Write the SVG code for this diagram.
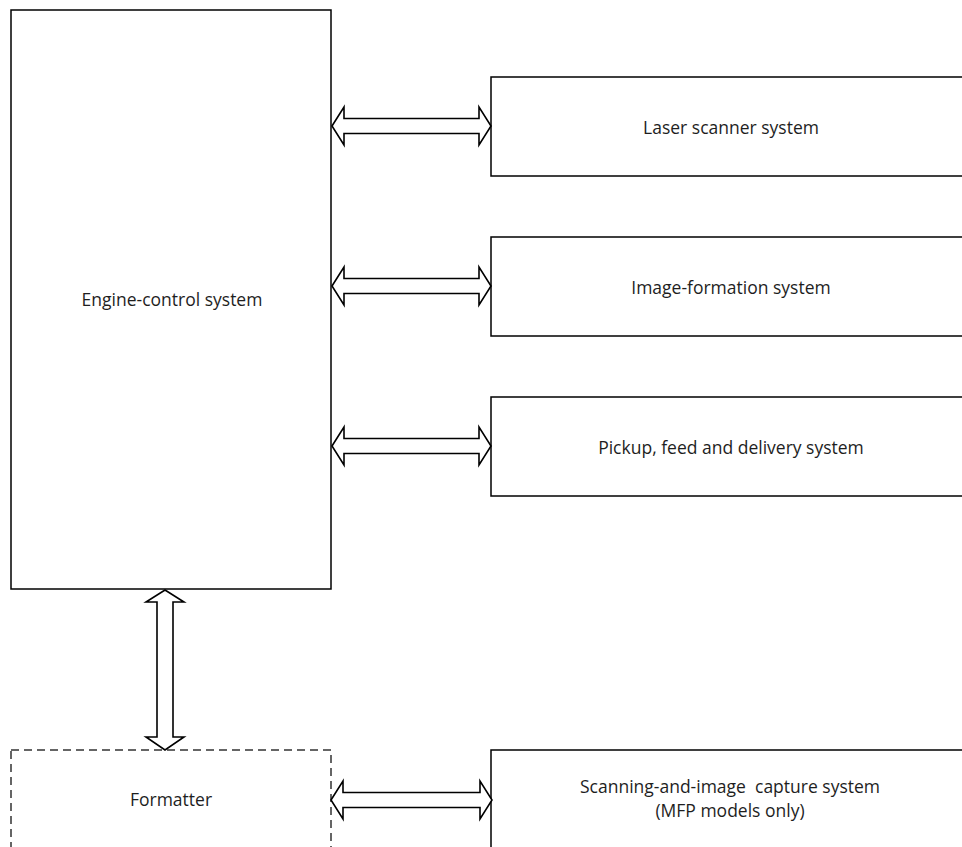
<svg xmlns="http://www.w3.org/2000/svg" width="962" height="847" viewBox="0 0 962 847">
<style>
.box{fill:#fff;stroke:#000;stroke-width:1.5}
.dash{fill:#fff;stroke:#333;stroke-width:1.5;stroke-dasharray:8 5}
.arr{fill:#fff;stroke:#000;stroke-width:1.6;stroke-linejoin:miter}
text{font-family:"Open Sans","Liberation Sans",sans-serif;font-size:17.5px;fill:#1e1e1e;text-anchor:middle}
</style>
<rect width="962" height="847" fill="#fff"/>
<g id="engine-control">
<rect class="box" x="11" y="10" width="320" height="579"/>
<text x="172" y="306">Engine-control system</text>
</g>
<g id="laser-scanner">
<rect class="box" x="491" y="77" width="490" height="99"/>
<text x="731" y="134">Laser scanner system</text>
</g>
<g id="image-formation">
<rect class="box" x="491" y="237" width="490" height="99"/>
<text x="731" y="294">Image-formation system</text>
</g>
<g id="pickup-feed-delivery">
<rect class="box" x="491" y="397" width="490" height="99"/>
<text x="731" y="454">Pickup, feed and delivery system</text>
</g>
<g id="formatter">
<rect class="dash" x="11" y="750" width="320" height="120"/>
<text x="171" y="806">Formatter</text>
</g>
<g id="scanning-image-capture">
<rect class="box" x="491" y="750" width="490" height="120"/>
<text x="730" y="793" xml:space="preserve">Scanning-and-image  capture system</text>
<text x="730" y="817">(MFP models only)</text>
</g>
<g id="connectors">
<polygon class="arr" points="332,126 344,107 344,118.5 479,118.5 479,107 491,126 479,145 479,133.5 344,133.5 344,145"/>
<polygon class="arr" points="332,286 344,267 344,278.5 479,278.5 479,267 491,286 479,305 479,293.5 344,293.5 344,305"/>
<polygon class="arr" points="332,446 344,427 344,438.5 479,438.5 479,427 491,446 479,465 479,453.5 344,453.5 344,465"/>
<polygon class="arr" points="331,800 343,781 343,792.5 480,792.5 480,781 492,800 480,819 480,807.5 343,807.5 343,819"/>
<polygon class="arr" points="165,590 184,602 173,602 173,737 184,737 165,750 146,737 157,737 157,602 146,602"/>
</g>
</svg>
